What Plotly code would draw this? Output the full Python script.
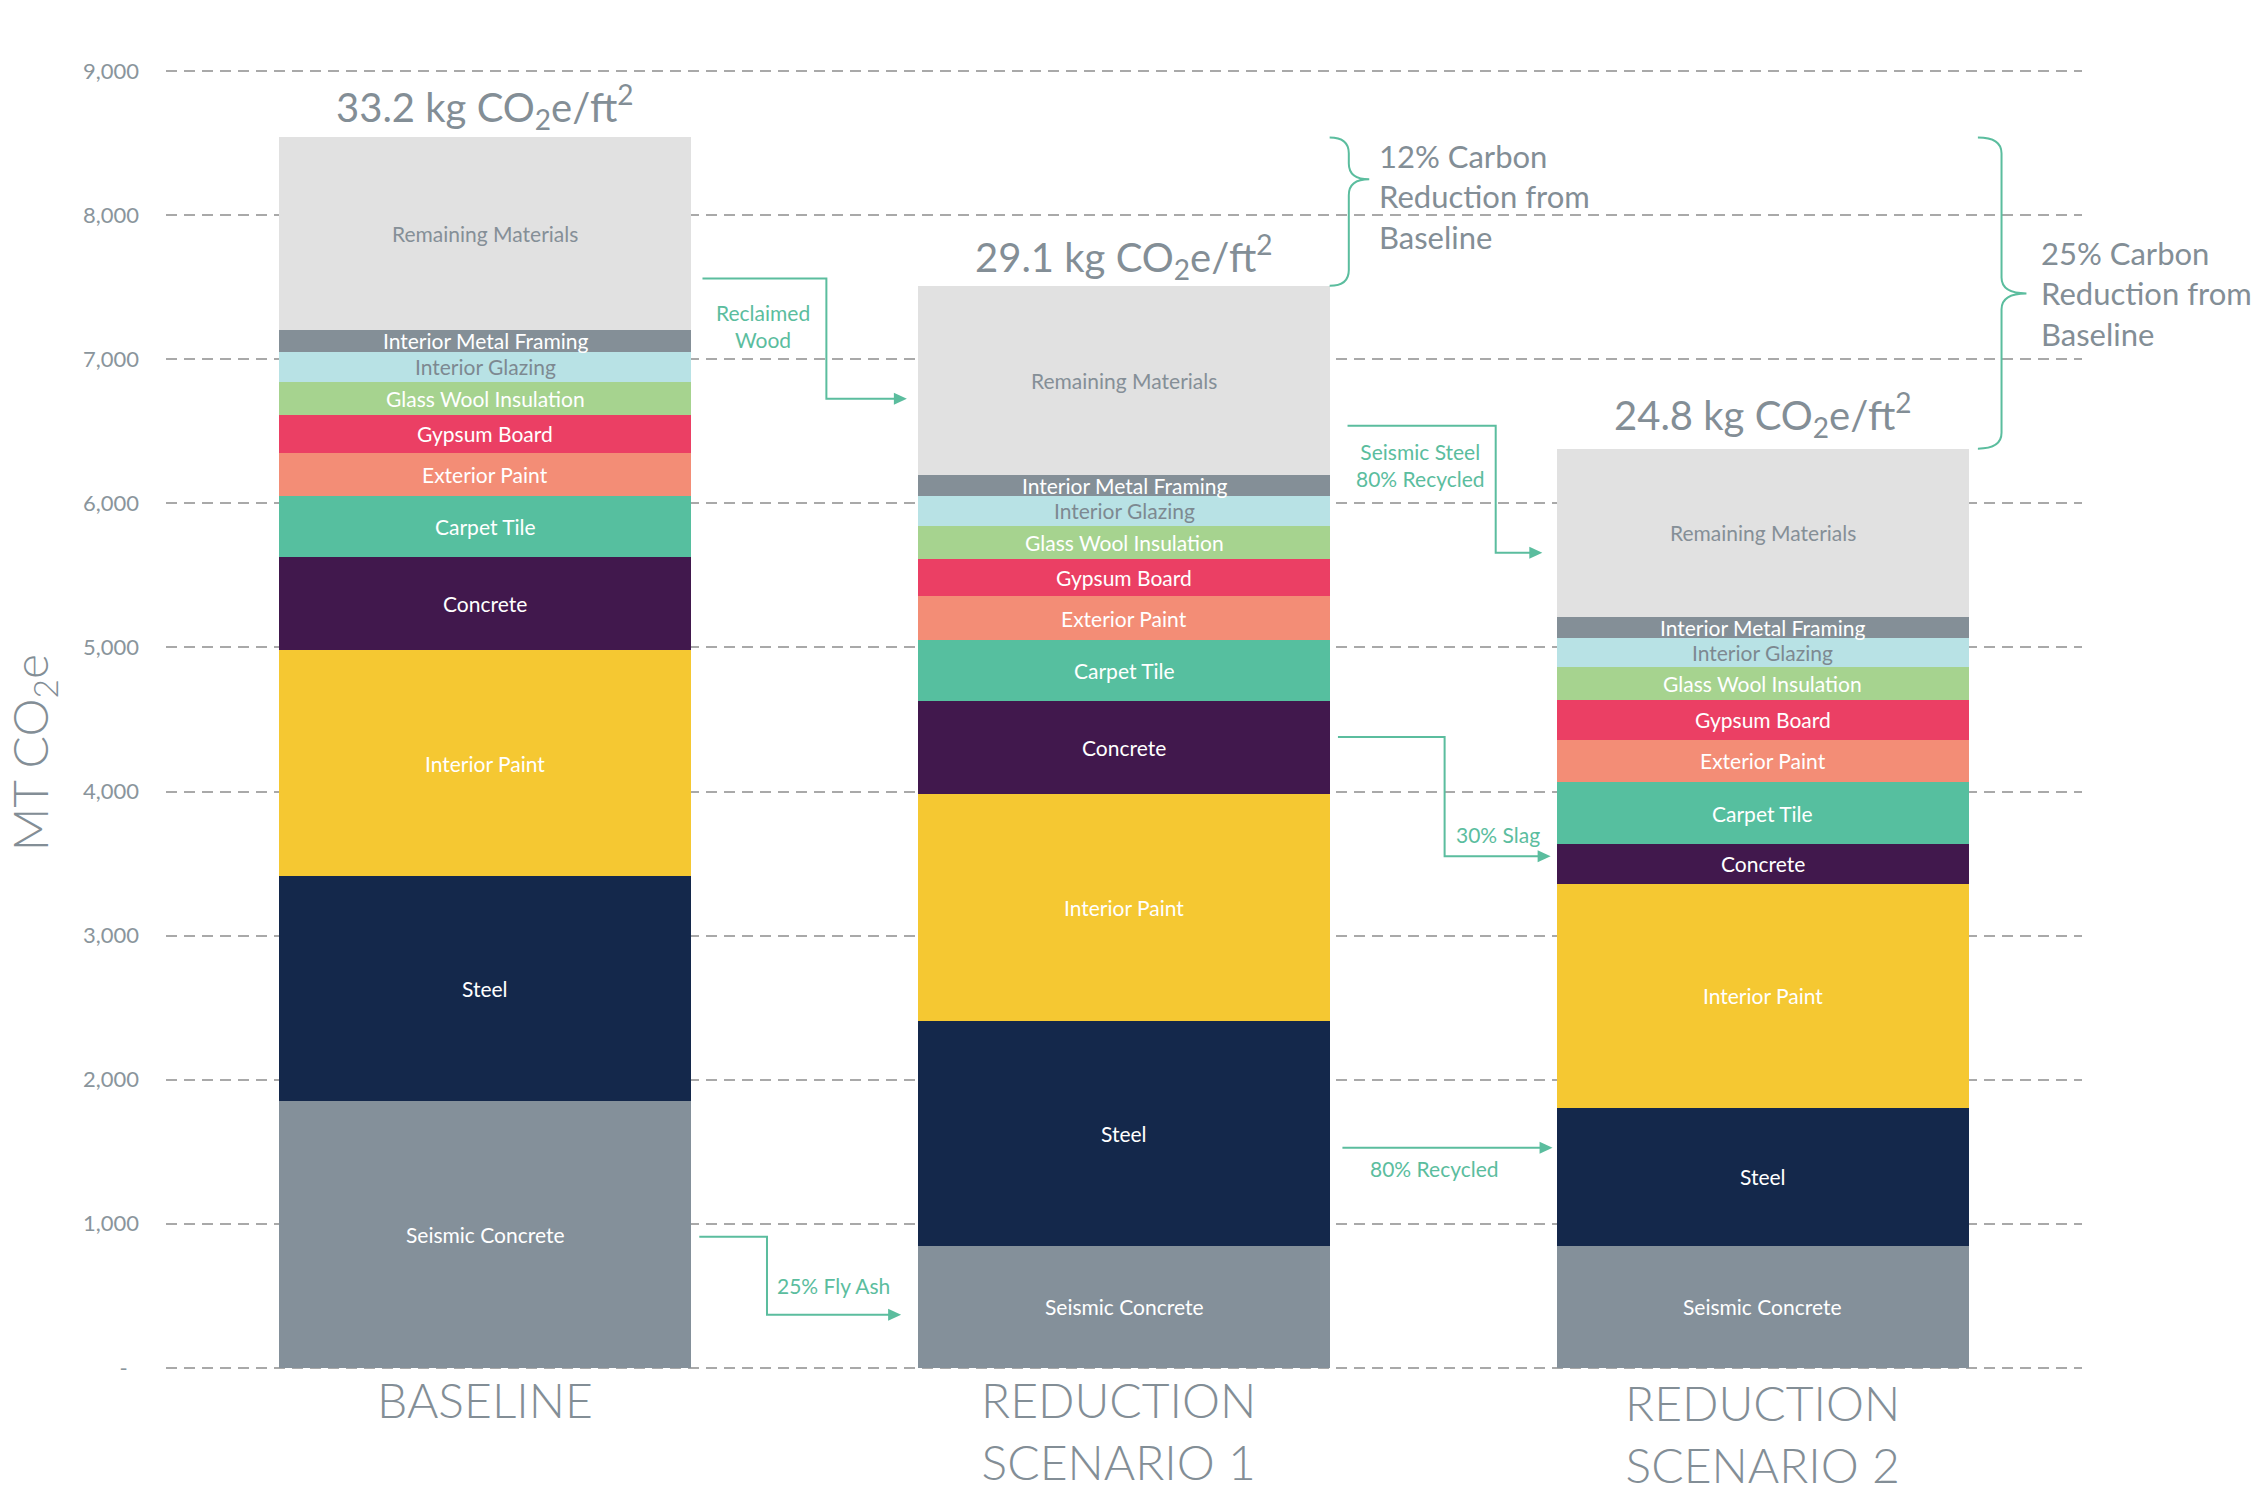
import plotly.graph_objects as go

# ---------------- data ----------------
scenarios = ["BASELINE", "REDUCTION<br>SCENARIO 1", "REDUCTION<br>SCENARIO 2"]
intensity = ["33.2", "29.1", "24.8"]  # kg CO2e / ft2

materials = ["Seismic Concrete", "Steel", "Interior Paint", "Concrete", "Carpet Tile",
             "Exterior Paint", "Gypsum Board", "Glass Wool Insulation", "Interior Glazing",
             "Interior Metal Framing", "Remaining Materials"]

seismic_concrete = [1850, 845, 845]
steel = [1565, 1565, 960]
interior_paint = [1565, 1575, 1555]
concrete = [645, 645, 275]
carpet_tile = [425, 420, 430]
exterior_paint = [300, 305, 295]
gypsum_board = [265, 260, 275]
glass_wool = [230, 230, 230]
interior_glazing = [205, 205, 200]
metal_framing = [155, 145, 145]
remaining = [1335, 1315, 1170]

values = [seismic_concrete, steel, interior_paint, concrete, carpet_tile, exterior_paint,
          gypsum_board, glass_wool, interior_glazing, metal_framing, remaining]

y_ticks = [0, 1000, 2000, 3000, 4000, 5000, 6000, 7000, 8000, 9000]
y_tick_labels = ["-\u00a0\u00a0", "1,000", "2,000", "3,000", "4,000", "5,000",
                 "6,000", "7,000", "8,000", "9,000"]

reduction_notes = ["12% Carbon<br>Reduction from<br>Baseline",
                   "25% Carbon<br>Reduction from<br>Baseline"]

# ---------------- styles ----------------
colors = ["#84909A", "#14284B", "#F5C832", "#41184D", "#56BF9F", "#F38D76",
          "#EB3F64", "#A6D38F", "#B8E2E5", "#848F97", "#E1E1E1"]
label_colors = ["white"] * 8 + ["#7D8991", "white", "#858F97"]
GREY = "#838E96"
TEAL = "#5BBD9E"
FONT = "Lato"
BAR_W = 0.645

W, H = 2267, 1512
M_L, M_R, M_T, M_B = 166, 185, 69, 142
X_RANGE = [-0.5, 2.5]
Y_RANGE = [-15, 9015]
PX_PER_X = (W - M_L - M_R) / (X_RANGE[1] - X_RANGE[0])
PX_PER_Y = (H - M_T - M_B) / (Y_RANGE[1] - Y_RANGE[0])

xs = [0, 1, 2]
fig = go.Figure()
for name, vals, col in zip(materials, values, colors):
    fig.add_trace(go.Bar(x=xs, y=vals, name=name, width=BAR_W,
                         marker=dict(color=col, line=dict(width=0)),
                         showlegend=False))

annotations = []
# segment labels
bottoms = [0, 0, 0]
for name, vals, lc in zip(materials, values, label_colors):
    for i in range(3):
        annotations.append(dict(x=xs[i], y=bottoms[i] + vals[i] / 2, xref="x", yref="y",
                                text=name, showarrow=False, xanchor="center", yanchor="middle",
                                font=dict(family=FONT, size=21, color=lc)))
        bottoms[i] += vals[i]
totals = bottoms[:]

# totals above bars
total_shift = [-1, -2, 3]
for i in range(3):
    annotations.append(dict(x=xs[i], y=totals[i], xref="x", yref="y", yanchor="bottom",
                            xanchor="center", yshift=total_shift[i], showarrow=False,
                            text=f"{intensity[i]} kg CO<sub>2</sub>e/ft<sup>2</sup>",
                            font=dict(family=FONT, size=40, color=GREY)))

# category labels
cat_xshift = [0, -6, 0]
cat_yshift = [-1, -1, -4]
for i, s in enumerate(scenarios):
    annotations.append(dict(x=xs[i], y=0, xref="x", yref="y", yanchor="top",
                            xanchor="center", xshift=cat_xshift[i], yshift=cat_yshift[i],
                            showarrow=False, text=s,
                            font=dict(family=FONT, size=48, color=GREY, weight=300)))

# y title
annotations.append(dict(x=-0.0694, y=0.474, xref="paper", yref="paper", textangle=-90,
                        xanchor="center", yanchor="middle", showarrow=False,
                        text="MT CO<sub>2</sub>e",
                        font=dict(family=FONT, size=48, color=GREY, weight=300)))

# arrows (elbow connectors)
arrows = [
    [(0.340, 7561), (0.534, 7561), (0.534, 6727), (0.660, 6727)],
    [(0.335, 910), (0.441, 910), (0.441, 368), (0.651, 368)],
    [(1.350, 6539), (1.582, 6539), (1.582, 5657), (1.655, 5657)],
    [(1.335, 4378), (1.502, 4378), (1.502, 3551), (1.668, 3551)],
    [(1.342, 1527), (1.671, 1527)],
]
HEAD_LEN, HEAD_HALF = 13 / PX_PER_X, 6 / PX_PER_Y
shapes = []
for pts in arrows:
    tipx, tipy = pts[-1]
    body = pts[:-1] + [(tipx - HEAD_LEN * 0.8, tipy)]
    path = "M " + " L ".join(f"{x},{y}" for x, y in body)
    shapes.append(dict(type="path", path=path, xref="x", yref="y",
                       line=dict(color=TEAL, width=2)))
    head = (f"M {tipx},{tipy} L {tipx - HEAD_LEN},{tipy + HEAD_HALF} "
            f"L {tipx - HEAD_LEN},{tipy - HEAD_HALF} Z")
    shapes.append(dict(type="path", path=head, xref="x", yref="y",
                       fillcolor=TEAL, line=dict(width=0)))

notes = [("Reclaimed<br>Wood", 0.434, 7234),
         ("25% Fly Ash", 0.545, 570),
         ("Seismic Steel<br>80% Recycled", 1.464, 6268),
         ("30% Slag", 1.586, 3704),
         ("80% Recycled", 1.486, 1383)]
for t, x, y in notes:
    annotations.append(dict(x=x, y=y, xref="x", yref="y", text=t, showarrow=False,
                            xanchor="center", yanchor="middle",
                            font=dict(family=FONT, size=21, color=TEAL)))


# braces
def brace(x0, xs_, xt, yt, yb, ym, r=110):
    return (f"M {x0},{yt} Q {xs_},{yt} {xs_},{yt - r} L {xs_},{ym + r} "
            f"Q {xs_},{ym} {xt},{ym} Q {xs_},{ym} {xs_},{ym - r} "
            f"L {xs_},{yb + r} Q {xs_},{yb} {x0},{yb}")


braces = [
    dict(x0=1.322, xs_=1.352, xt=1.384, yt=totals[0], yb=totals[1], ym=8249, tx=1.396, ty=8127),
    dict(x0=2.337, xs_=2.374, xt=2.413, yt=totals[0], yb=totals[2], ym=7457, tx=2.432, ty=7457),
]
for b, note in zip(braces, reduction_notes):
    shapes.append(dict(type="path", xref="x", yref="y",
                       path=brace(b["x0"], b["xs_"], b["xt"], b["yt"], b["yb"], b["ym"]),
                       line=dict(color=TEAL, width=2)))
    annotations.append(dict(x=b["tx"], y=b["ty"], xref="x", yref="y", text=note,
                            showarrow=False, xanchor="left", yanchor="middle", align="left",
                            font=dict(family=FONT, size=31, color=GREY)))

fig.update_layout(
    barmode="stack",
    width=W, height=H,
    margin=dict(l=M_L, r=M_R, t=M_T, b=M_B),
    paper_bgcolor="white", plot_bgcolor="white",
    shapes=shapes, annotations=annotations,
    xaxis=dict(range=X_RANGE, showgrid=False, zeroline=False, showticklabels=False,
               showline=False, fixedrange=True),
    yaxis=dict(range=Y_RANGE, tickvals=y_ticks, ticktext=y_tick_labels,
               showgrid=True, gridcolor="#A9A9A9", gridwidth=2, griddash="11px,7px",
               zeroline=False, showline=False, ticks="", ticklabelstandoff=26,
               tickfont=dict(family=FONT, size=22, color="#8A959C")),
    font=dict(family=FONT),
)

fig.write_html("out.html", config={"displayModeBar": False},
               post_script="document.body.style.margin='0';document.body.style.overflow='hidden';")
